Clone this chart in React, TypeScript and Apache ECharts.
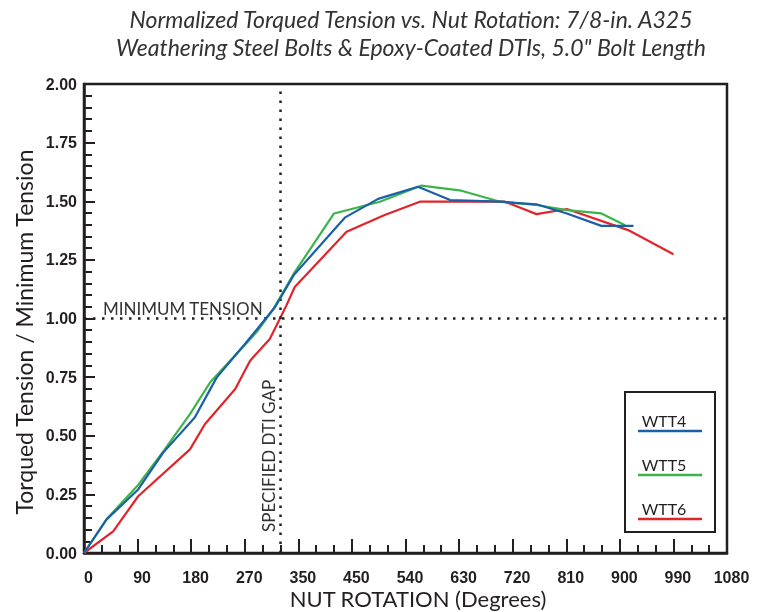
import React, { useEffect, useRef } from "react";
import * as echarts from "echarts";

const titleLines = [
  "Normalized Torqued Tension vs. Nut Rotation: 7/8-in. A325",
  'Weathering Steel Bolts & Epoxy-Coated DTIs, 5.0" Bolt Length',
];
const xAxisTitle = "NUT ROTATION (Degrees)";
const yAxisTitle = "Torqued Tension / Minimum Tension";

const xTicks = [0, 90, 180, 270, 360, 450, 540, 630, 720, 810, 900, 990, 1080];
const xTickLabels = ["0", "90", "180", "270", "350", "450", "540", "630", "720", "810", "900", "990", "1080"];

const seriesNames = ["WTT4", "WTT5", "WTT6"];
const seriesColors = ["#1b5faa", "#3cb44a", "#e1242b"];

const wtt4: [number, number][] = [
  [0, 0], [38, 0.143], [91, 0.271], [133, 0.428], [186, 0.578], [223, 0.749],
  [270, 0.89], [321, 1.049], [352, 1.184], [438, 1.43], [494, 1.51], [561, 1.562],
  [615, 1.505], [699, 1.498], [760, 1.487], [811, 1.448], [869, 1.395], [923, 1.395],
];
const wtt5: [number, number][] = [
  [0, 0], [38, 0.145], [91, 0.29], [135, 0.44], [178, 0.592], [212, 0.728],
  [290, 0.942], [318, 1.04], [352, 1.19], [420, 1.448], [497, 1.498], [567, 1.567],
  [634, 1.545], [699, 1.498], [760, 1.484], [811, 1.462], [869, 1.448], [909, 1.398],
];
const wtt6: [number, number][] = [
  [0, 0], [49, 0.092], [91, 0.242], [178, 0.442], [203, 0.549], [254, 0.699],
  [279, 0.82], [312, 0.913], [329, 0.999], [340, 1.056], [354, 1.134], [441, 1.37],
  [505, 1.441], [564, 1.498], [707, 1.498], [760, 1.445], [811, 1.467], [914, 1.377],
  [990, 1.274],
];
const seriesData = [wtt4, wtt5, wtt6];

const minimumTension = 1.0;
const minimumTensionLabel = "MINIMUM TENSION";
const dtiGap = 330;
const dtiGapLabel = "SPECIFIED DTI GAP";

const INK = "#231f20";

export default function App() {
  const ref = useRef<HTMLDivElement>(null);
  useEffect(() => {
    if (!ref.current) return;
    const chart = echarts.init(ref.current, undefined, { renderer: "svg" });
    const legendGraphics: any[] = [
      {
        type: "rect",
        shape: { x: 625, y: 392, width: 90, height: 140 },
        style: { fill: "#fff", stroke: INK, lineWidth: 2 },
        z: 10,
      },
    ];
    seriesNames.forEach((n, i) => {
      const ty = 420 + i * 44;
      legendGraphics.push({
        type: "text",
        x: 664,
        y: ty,
        style: {
          text: n,
          fill: INK,
          font: "16px Lato",
          align: "center",
          verticalAlign: "middle",
        },
        z: 11,
      });
      legendGraphics.push({
        type: "line",
        shape: { x1: 638, y1: ty + 11, x2: 702, y2: ty + 11 },
        style: { stroke: seriesColors[i], lineWidth: 2.5 },
        z: 11,
      });
    });

    const option: any = {
      animation: false,
      grid: {
        left: 84,
        right: 33,
        top: 84,
        bottom: 59,
        show: true,
        borderColor: INK,
        borderWidth: 2.5,
        containLabel: false,
      },
      xAxis: {
        type: "value",
        min: 0,
        max: 1080,
        interval: 90,
        axisLine: { show: true, lineStyle: { color: INK, width: 2.5 } },
        axisTick: { show: true, inside: true, length: 14, lineStyle: { color: INK, width: 2 } },
        minorTick: { show: true, splitNumber: 3, length: 8, lineStyle: { color: INK, width: 2 } },
        splitLine: { show: false },
        axisLabel: {
          color: INK,
          fontFamily: "Liberation Sans",
          fontWeight: "bold",
          fontSize: 16,
          margin: 16,
          padding: [0, 0, 0, 9],
          formatter: (v: number) => {
            const i = xTicks.indexOf(v);
            return i >= 0 ? xTickLabels[i] : "";
          },
        },
      },
      yAxis: {
        type: "value",
        min: 0,
        max: 2,
        interval: 0.25,
        axisLine: { show: true, lineStyle: { color: INK, width: 2.5 } },
        axisTick: { show: true, inside: true, length: 11, lineStyle: { color: INK, width: 2 } },
        minorTick: { show: true, splitNumber: 5, length: 8, lineStyle: { color: INK, width: 2 } },
        splitLine: { show: false },
        axisLabel: {
          color: INK,
          fontFamily: "Liberation Sans",
          fontWeight: "bold",
          fontSize: 16,
          margin: 7,
          formatter: (v: number) => v.toFixed(2),
        },
      },
      series: [
        ...seriesNames.map((n, i) => ({
          name: n,
          type: "line",
          data: seriesData[i],
          showSymbol: false,
          symbol: "none",
          z: 5 - i,
          lineStyle: { color: seriesColors[i], width: 2.2 },
          itemStyle: { color: seriesColors[i] },
        })),
        {
          name: "refs",
          type: "line",
          data: [],
          symbol: "none",
          markLine: {
            silent: true,
            symbol: "none",
            lineStyle: { color: INK, width: 2.5, type: [2.5, 6.5] },
            data: [
              {
                yAxis: minimumTension,
                label: {
                  show: true,
                  position: "insideStartTop",
                  formatter: minimumTensionLabel,
                  color: "#333",
                  fontFamily: "Lato",
                  fontSize: 17,
                  distance: [19, 2],
                },
              },
              {
                xAxis: dtiGap,
                label: {
                  show: true,
                  position: "insideStartTop",
                  formatter: dtiGapLabel,
                  color: "#333",
                  fontFamily: "Lato",
                  fontSize: 17,
                  distance: [21, 3],
                },
              },
            ],
          },
        },
      ],
      graphic: [
        {
          type: "text",
          x: 411,
          y: 33,
          style: {
            text: titleLines.join("\n"),
            fill: "#333",
            font: "italic 23px Lato",
            lineHeight: 28,
            align: "center",
            verticalAlign: "middle",
          },
        },
        {
          type: "text",
          x: 418,
          y: 598,
          style: {
            text: xAxisTitle,
            fill: INK,
            font: "22px Lato",
            align: "center",
            verticalAlign: "middle",
          },
        },
        {
          type: "text",
          x: 24,
          y: 332,
          rotation: Math.PI / 2,
          style: {
            text: yAxisTitle,
            fill: INK,
            font: "23px Lato",
            align: "center",
            verticalAlign: "middle",
          },
        },
        ...legendGraphics,
      ],
    };
    chart.setOption(option);
    return () => chart.dispose();
  }, []);
  return (
    <div
      ref={ref}
      style={{ width: 760, height: 612, position: "fixed", left: 0, top: 0 }}
    />
  );
}
